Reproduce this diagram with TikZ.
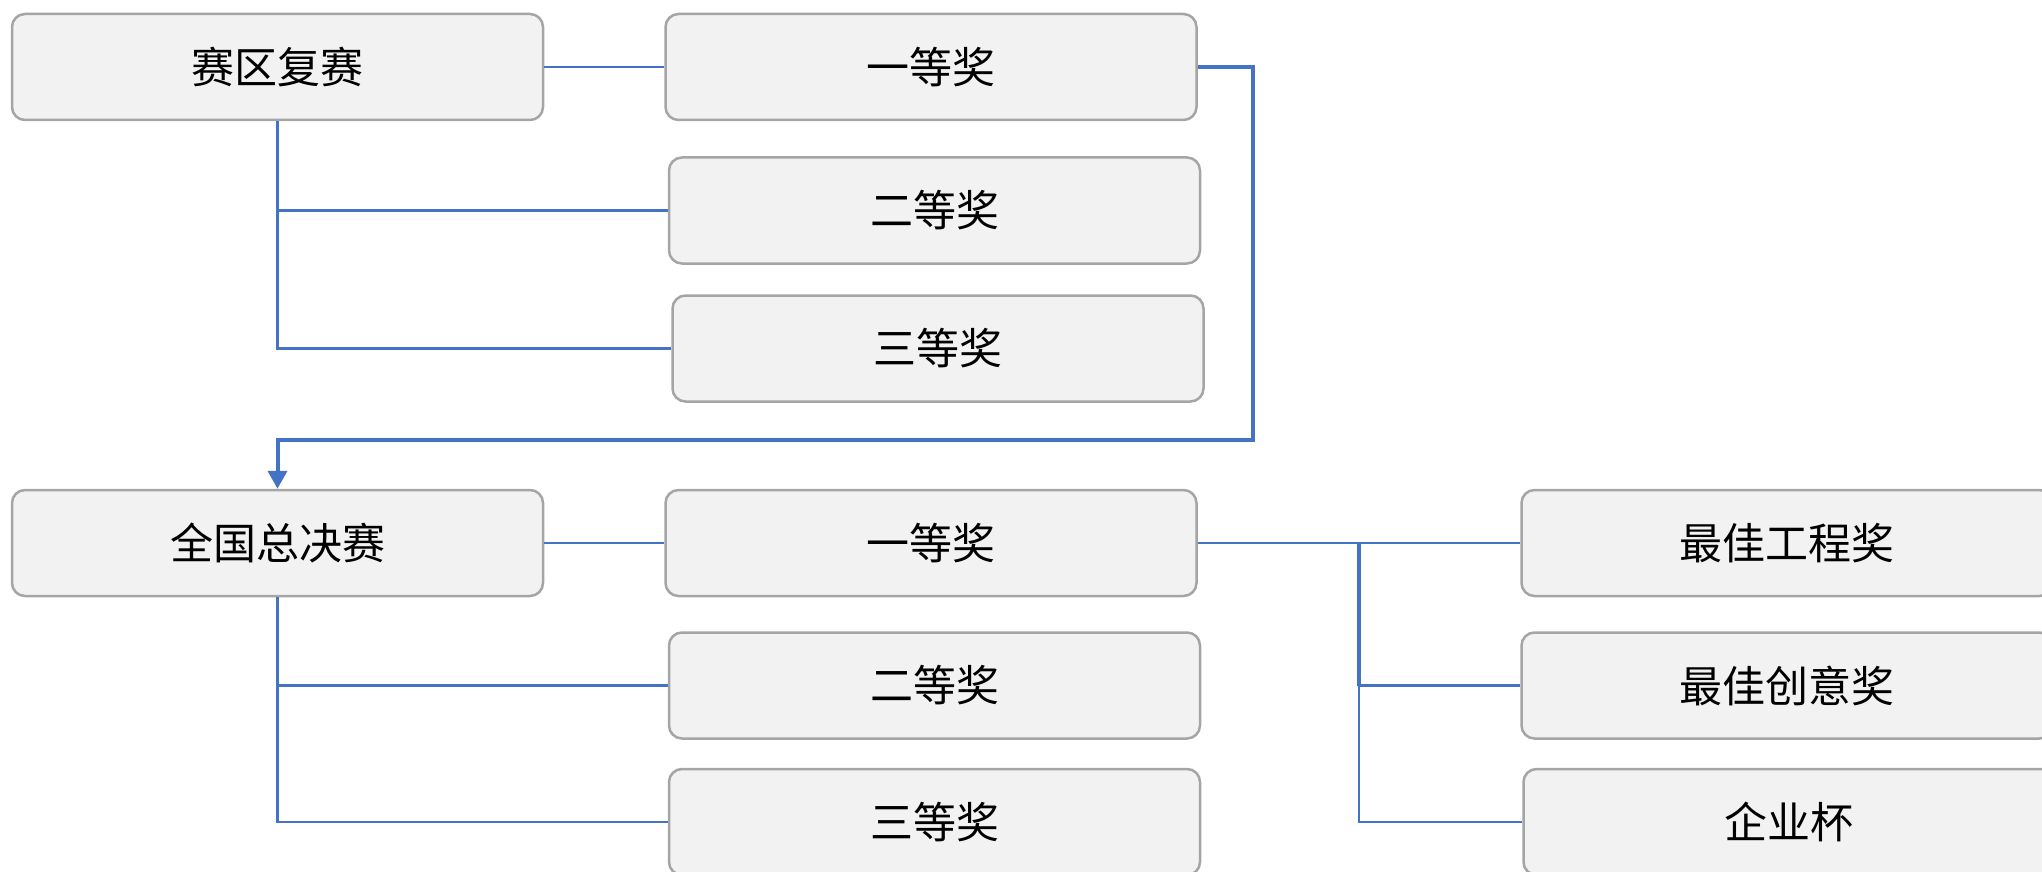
\documentclass[tikz,border=0pt]{standalone}
\usepackage{fontspec}
\setmainfont{Noto Sans CJK SC}
\usetikzlibrary{arrows.meta}
\definecolor{lineblue}{HTML}{4472C4}
\definecolor{boxfill}{HTML}{F2F2F2}
\definecolor{boxdraw}{HTML}{A5A5A5}
\tikzset{
  award/.style={draw=boxdraw, fill=boxfill, line width=1.25pt, rounded corners=6.5pt,
    minimum width=265.5pt, minimum height=53pt, inner sep=0pt,
    font=\fontsize{21.5pt}{24pt}\selectfont},
  link/.style={draw=lineblue, line width=1.3pt},
  thicklink/.style={draw=lineblue, line width=2pt},
}
\begin{document}
\begin{tikzpicture}[x=0.5pt,y=-0.5pt]
\useasboundingbox (0,0) rectangle (2042,872);
\clip (0,0) rectangle (2042,872);
\node[award] (A)  at (277.5,67)   {赛区复赛};
\node[award] (B1) at (931,67)     {一等奖};
\node[award] (B2) at (934.5,210.5) {二等奖};
\node[award] (B3) at (938,348.5)  {三等奖};
\node[award] (C)  at (277.5,543)  {全国总决赛};
\node[award] (D1) at (931,543)    {一等奖};
\node[award] (D2) at (934.5,685.5) {二等奖};
\node[award] (D3) at (934.5,822)  {三等奖};
\node[award] (E1) at (1787,543)   {最佳工程奖};
\node[award] (E2) at (1787,685.5) {最佳创意奖};
\node[award] (E3) at (1789,822)   {企业杯};

\draw[link] (A.east) -- (B1.west);
\draw[link] (A.south) |- (B2.west);
\draw[link] (A.south) |- (B3.west);

\coordinate (r1) at (1253,440);
\draw[thicklink, -{Triangle[width=9.5pt,length=9pt]}] (B1.east) -| (r1) -| (C.north);

\draw[link] (C.east) -- (D1.west);
\draw[link] (C.south) |- (D2.west);
\draw[link] (C.south) |- (D3.west);

\draw[link] (D1.east) -- (E1.west);
\coordinate (j) at (1359,543);
\draw[link, line width=2pt] (j) -- (j |- E2.west);
\draw[link] (j) |- (E2.west);
\draw[link] (j) |- (E3.west);
\end{tikzpicture}
\end{document}
